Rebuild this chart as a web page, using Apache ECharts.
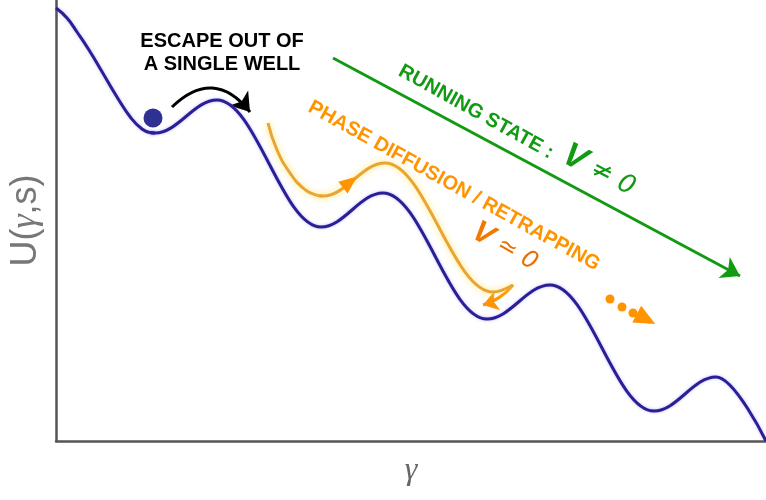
<!DOCTYPE html>
<html>
<head>
<meta charset="utf-8">
<script src="https://cdn.jsdelivr.net/npm/echarts@6/dist/echarts.min.js"></script>
<style>html,body{margin:0;padding:0;background:#fff}#c{width:766px;height:500px}</style>
</head>
<body>
<div id="c"></div>
<script>
// Washboard potential U(gamma) (blue).
// Opening descent down to the first well:
var potentialHead = [[0,433],[11,423],[21,409],[33,391],[45,371],[61,344],[75,323],[86,312],[94,308.5],[99,308]];
// Successive wells (minima) and barrier tops (maxima), then the end point:
var potentialWells = [[94,308.5],[99,308],[161,341],[265,214],[327,248],[431,122],[494,156],[598,30],[660,64],[710,0]];
// Phase diffusion / retrapping trajectory (orange)
var diffusionHead = [[212,318],[221,291],[234,268],[247,253],[256,247.5],[263,245.3],[267,245]];
var diffusionWells = [[263,245.3],[267,245],[329,278],[437,149],[457,156]];
var retrapArrow = [[457,156],[427,136]];
var diffusionArrow = [[294,259]];
var runningArrow = [[277,383],[684,165]];
var escapeArrow = [[116,334],[194,329]];
var particle = [[97,323]];
var trailDots = [[554,142],[566,134],[577,128]];
var trailHead = [[590,122]];

var titleEscape = 'ESCAPE OUT OF\nA SINGLE WELL';
var titleRunning = 'RUNNING STATE :';
var titleDiffusion = 'PHASE DIFFUSION / RETRAPPING';

var chart = echarts.init(document.getElementById('c'));
var deg = Math.PI / 180;
var blueStyle = {color: '#2b1f94', width: 3, shadowColor: 'rgba(120,110,255,0.5)', shadowBlur: 3};
var orangeStyle = {color: '#e8a534', width: 3, shadowColor: 'rgba(255,225,90,0.9)', shadowBlur: 6};
var option = {
  animation: false,
  backgroundColor: '#ffffff',
  grid: {left: 56, right: 0, top: 0, bottom: 59},
  xAxis: {
    type: 'value', min: 0, max: 710,
    axisLine: {show: true, onZero: false, lineStyle: {color: '#555', width: 2.5}},
    axisTick: {show: false}, axisLabel: {show: false}, splitLine: {show: false},
    name: 'γ', nameLocation: 'middle', nameGap: 14,
    nameTextStyle: {fontFamily: 'Liberation Serif', fontStyle: 'italic', fontSize: 32, color: '#666'}
  },
  yAxis: {
    type: 'value', min: 0, max: 441,
    axisLine: {show: true, onZero: false, lineStyle: {color: '#555', width: 2.5}},
    axisTick: {show: false}, axisLabel: {show: false}, splitLine: {show: false},
    name: 'U({g|γ},s)', nameLocation: 'middle', nameGap: 12, nameRotate: 90,
    nameTextStyle: {
      fontFamily: 'Liberation Sans', fontSize: 36, color: '#777',
      rich: {g: {fontFamily: 'Liberation Serif', fontStyle: 'italic', fontSize: 36, color: '#777'}}
    }
  },
  series: [
    {type: 'line', data: potentialHead, smooth: 0.5, symbol: 'none', lineStyle: blueStyle},
    {type: 'line', data: potentialWells, smooth: 0.37, smoothMonotone: 'x', symbol: 'none', lineStyle: blueStyle},
    {type: 'line', data: diffusionHead, smooth: 0.5, symbol: 'none', lineStyle: orangeStyle},
    {type: 'line', data: diffusionWells, smooth: 0.37, smoothMonotone: 'x', symbol: 'none', lineStyle: orangeStyle},
    {
      type: 'lines', coordinateSystem: 'cartesian2d',
      symbol: ['none', 'arrow'], symbolSize: 15,
      lineStyle: {color: '#ff9400', width: 3, opacity: 1, curveness: 0.15},
      data: [{coords: retrapArrow}]
    },
    {
      type: 'scatter', data: diffusionArrow, symbol: 'triangle', symbolSize: [15, 18], z: 5,
      symbolRotate: -52, itemStyle: {color: '#ff9400', opacity: 1}
    },
    {
      type: 'lines', coordinateSystem: 'cartesian2d',
      symbol: ['none', 'arrow'], symbolSize: 18,
      lineStyle: {color: '#139a13', width: 3, opacity: 1},
      data: [{coords: runningArrow}]
    },
    {
      type: 'lines', coordinateSystem: 'cartesian2d',
      symbol: ['none', 'arrow'], symbolSize: 18,
      lineStyle: {color: '#000', width: 3, opacity: 1, curveness: 0.55},
      data: [{coords: escapeArrow}]
    },
    {
      type: 'scatter', data: particle, symbol: 'circle', symbolSize: 19,
      itemStyle: {color: '#2e3192', opacity: 1}
    },
    {
      type: 'scatter', data: trailDots, symbol: 'circle', symbolSize: 9,
      itemStyle: {color: '#ff9400', opacity: 1}
    },
    {
      type: 'scatter', data: trailHead, symbol: 'triangle', symbolSize: [19, 21],
      symbolRotate: -118, itemStyle: {color: '#ff9400', opacity: 1}
    }
  ],
  graphic: [
    {
      type: 'text', x: 222, y: 53,
      style: {text: titleEscape, fill: '#000', font: 'bold 20px "Liberation Sans"', align: 'center', verticalAlign: 'middle', lineHeight: 23}
    },
    {
      type: 'text', x: 476, y: 112, rotation: -29 * deg,
      style: {text: titleRunning, fill: '#139a13', font: 'bold 20px "Liberation Sans"', align: 'center', verticalAlign: 'middle'}
    },
    {
      type: 'text', x: 599, y: 171, rotation: -28 * deg,
      style: {
        text: '{v|V}{r| ≠ 0}', align: 'center', verticalAlign: 'middle',
        rich: {
          v: {fill: '#139a13', font: 'italic bold 34px "Liberation Sans"'},
          r: {fill: '#139a13', font: 'italic 26px "DejaVu Sans"'}
        }
      }
    },
    {
      type: 'text', x: 454, y: 186, rotation: -29 * deg,
      style: {text: titleDiffusion, fill: '#ff9400', font: 'bold 20px "Liberation Sans"', align: 'center', verticalAlign: 'middle'}
    },
    {
      type: 'text', x: 505, y: 247, rotation: -30 * deg,
      style: {
        text: '{v|V}{r| ≃ 0}', align: 'center', verticalAlign: 'middle',
        rich: {
          v: {fill: '#f07a00', font: 'italic bold 30px "Liberation Sans"'},
          r: {fill: '#e87000', font: 'italic 24px "DejaVu Sans"'}
        }
      }
    }
  ]
};
chart.setOption(option);
</script>
</body>
</html>
